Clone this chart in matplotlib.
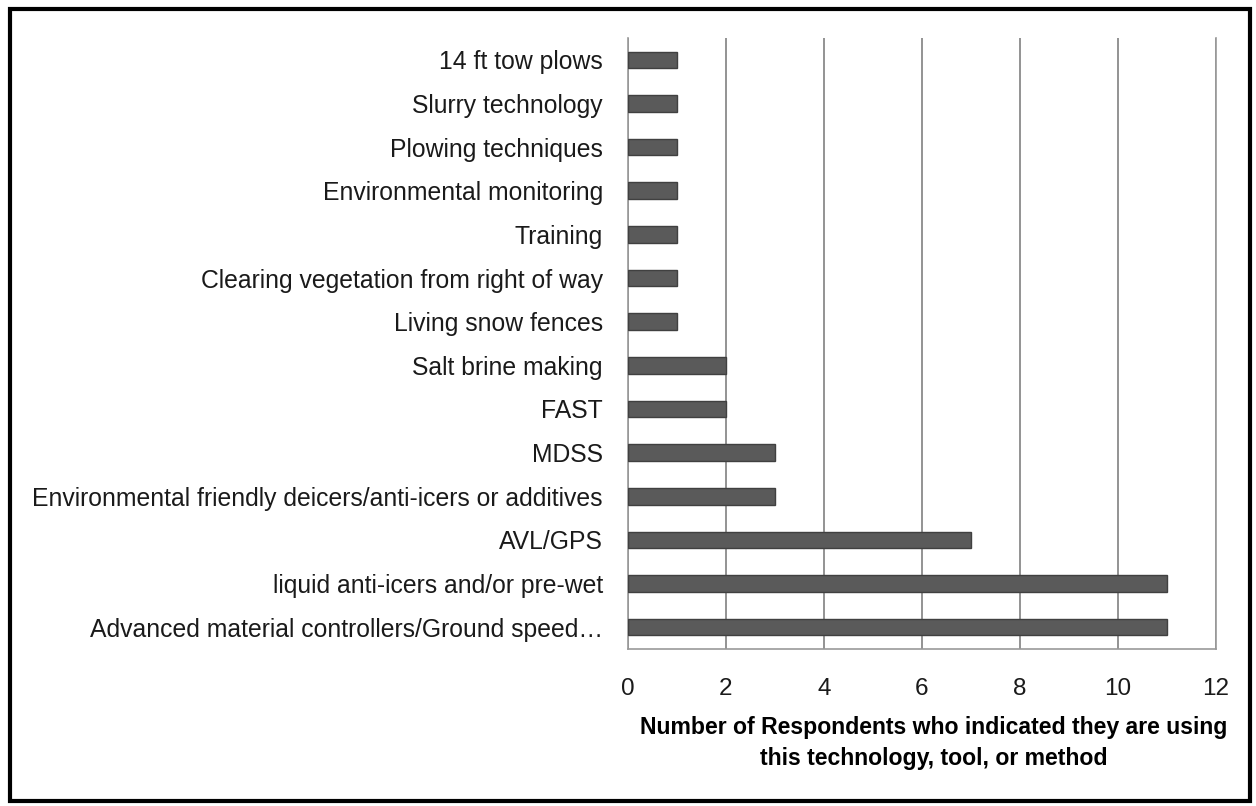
import matplotlib.pyplot as plt
from matplotlib.patches import Rectangle

plt.rcParams['font.family'] = ['Liberation Sans', 'DejaVu Sans']

# categories from bottom to top
labels = ["Advanced material controllers/Ground speed…",
          "liquid anti-icers and/or pre-wet",
          "AVL/GPS",
          "Environmental friendly deicers/anti-icers or additives",
          "MDSS",
          "FAST",
          "Salt brine making",
          "Living snow fences",
          "Clearing vegetation from right of way",
          "Training",
          "Environmental monitoring",
          "Plowing techniques",
          "Slurry technology",
          "14 ft tow plows"]
counts = [11, 11, 7, 3, 3, 2, 2, 1, 1, 1, 1, 1, 1, 1]
xticks = [0, 2, 4, 6, 8, 10, 12]

fig = plt.figure(figsize=(12.56, 8.06), dpi=100)
ax = fig.add_axes([628/1256, 1 - 649/806, (1216-628)/1256, (649-38)/806])

ax.barh(range(len(labels)), counts, height=0.38, color='#5a5a5a',
        edgecolor='#404040', linewidth=1, zorder=3)
ax.set_ylim(-0.5, len(labels) - 0.5)
ax.set_xlim(0, 12)
ax.set_xticks(xticks)
ax.set_yticks(range(len(labels)))
ax.set_yticklabels(labels, fontsize=17.8, color='#1a1a1a')
ax.tick_params(axis='y', length=0, pad=18)
ax.tick_params(axis='x', length=0, pad=21, labelsize=17.5, labelcolor='#1a1a1a')
ax.xaxis.grid(True, color='#808080', linewidth=1.2, zorder=0)

for s in ['left', 'bottom', 'right']:
    ax.spines[s].set_color('#999999')
    ax.spines[s].set_linewidth(1.2)
ax.spines['top'].set_visible(False)

ax.set_xlabel("Number of Respondents who indicated they are using\nthis technology, tool, or method",
              fontsize=16.6, fontweight='bold', linespacing=1.45)
ax.xaxis.set_label_coords(0.52, -0.11)

# outer frame around the whole chart
fig.patches.append(Rectangle((10/1256, 1 - 801/806), (1250-10)/1256, (801-9)/806,
                             transform=fig.transFigure, fill=False,
                             edgecolor='black', linewidth=3))

fig.savefig('out.png', dpi=100)
